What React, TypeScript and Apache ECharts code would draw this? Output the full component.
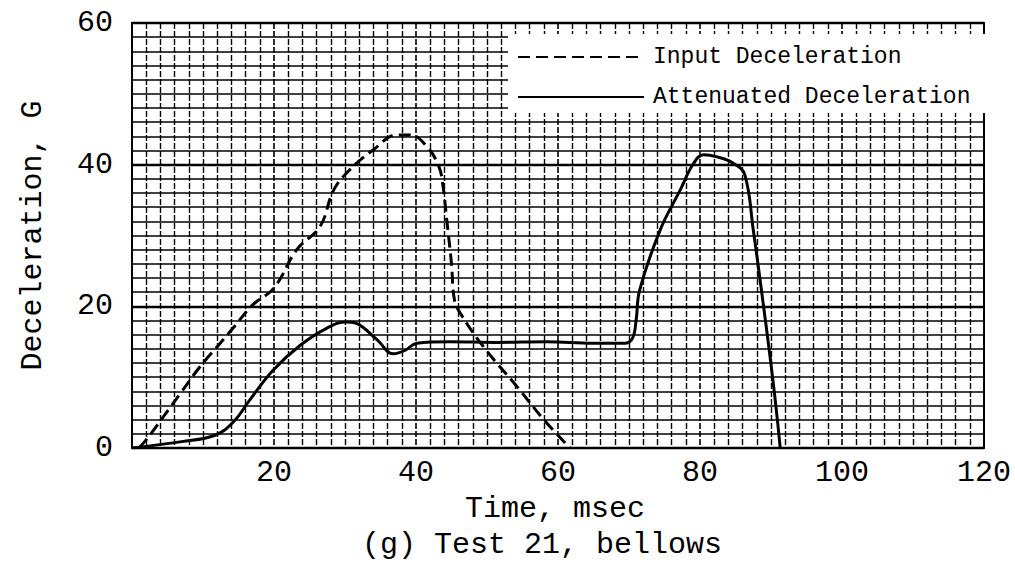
import React, { useEffect, useRef } from "react";
import * as echarts from "echarts";

const FONT = "'Liberation Mono', 'DejaVu Sans Mono', monospace";

const xTicks = [0, 20, 40, 60, 80, 100, 120];
const yTicks = [0, 20, 40, 60];

const seriesNames = ["Input Deceleration", "Attenuated Deceleration"];

const inputDecel: [number, number][] = [
  [1, 0], [2.5, 1.8], [6.8, 7.7], [9.6, 11.5], [12, 14.3], [14.3, 17], [17, 20.2],
  [20, 22.6], [23.2, 28], [26.5, 31.3], [28.4, 36.4], [30.7, 39.3], [34, 42.1],
  [37.3, 44.2], [39.2, 44.2], [41.5, 42.6], [43.2, 39.8], [43.8, 37], [44.3, 32.5],
  [45, 26], [45.4, 21], [46.2, 19.1], [49.5, 14.3], [54.2, 8.7], [58, 4], [61.7, 0],
];

const attenuatedDecel: [number, number][] = [
  [0, 0], [7, 0.9], [11.7, 1.8], [14.3, 3.7], [16.6, 6.8], [19.9, 11], [23.7, 14.5],
  [27.4, 16.9], [30.2, 17.8], [31.6, 17.6], [34.5, 15.3], [36.8, 13.3], [38.5, 13.8],
  [40.1, 14.8], [44.8, 15], [51.4, 14.9], [58.4, 15], [65, 14.8], [69.5, 14.8],
  [70.5, 15.5], [71, 18], [71.5, 22.3], [74.4, 30.8], [77.2, 36.4], [79.1, 40.2],
  [80.5, 41.4], [82.4, 41.1], [84.7, 40.2], [86.3, 38.6], [87.5, 30.8], [88.9, 20.4],
  [90.1, 11], [90.8, 4.9], [91.3, 0],
];

const xName = "Time, msec";
const yName = "Deceleration, G";
const caption = "(g) Test 21, bellows";

export default function App() {
  const ref = useRef<HTMLDivElement>(null);
  useEffect(() => {
    if (!ref.current) return;
    const chart = echarts.init(ref.current, undefined, { renderer: "svg" });
    chart.setOption({
      animation: false,
      backgroundColor: "#fff",
      grid: {
        left: 132,
        right: 31,
        top: 23,
        bottom: 118,
        show: true,
        borderColor: "#000",
        borderWidth: 2,
      },
      legend: {
        data: seriesNames,
        orient: "vertical",
        left: 508,
        top: 34,
        padding: [10, 19, 3, 9],
        backgroundColor: "#fff",
        itemWidth: 126,
        itemHeight: 14,
        itemGap: 14,
        z: 10,
        itemStyle: { opacity: 0 },
        textStyle: {
          fontFamily: FONT,
          fontSize: 23,
          lineHeight: 26,
          color: "#000",
          padding: [0, 0, 0, 4],
        },
      },
      xAxis: {
        type: "value",
        min: xTicks[0],
        max: xTicks[xTicks.length - 1],
        interval: 20,
        name: xName,
        nameLocation: "middle",
        nameGap: 46,
        nameTextStyle: { fontFamily: FONT, fontSize: 30, color: "#000", padding: [0, 6, 0, 0] },
        axisLine: { show: true, lineStyle: { color: "#000", width: 2 } },
        axisTick: { show: false },
        axisLabel: {
          fontFamily: FONT,
          fontSize: 30,
          color: "#000",
          margin: 10,
          formatter: (v: number) => (v === 0 ? "" : String(v)),
        },
        splitLine: { show: true, lineStyle: { color: "#000", width: 1.6, type: [6, 2] } },
        minorTick: { show: false, splitNumber: 10 },
        minorSplitLine: { show: true, lineStyle: { color: "#000", width: 1.4, type: [6, 2] } },
      },
      yAxis: {
        type: "value",
        min: yTicks[0],
        max: yTicks[yTicks.length - 1],
        interval: 20,
        name: yName,
        nameLocation: "middle",
        nameRotate: 90,
        nameGap: 84,
        nameTextStyle: { fontFamily: FONT, fontSize: 30, color: "#000" },
        axisLine: { show: true, lineStyle: { color: "#000", width: 2 } },
        axisTick: { show: false },
        axisLabel: { fontFamily: FONT, fontSize: 30, color: "#000", margin: 19 },
        splitLine: { show: true, lineStyle: { color: "#000", width: 2.4 } },
        minorTick: { show: false, splitNumber: 10 },
        minorSplitLine: { show: true, lineStyle: { color: "#000", width: 1.6 } },
      },
      graphic: [
        {
          type: "text",
          left: 362,
          top: 530,
          style: { text: caption, font: `30px ${FONT}`, fill: "#000" },
        },
      ],
      series: [
        {
          name: seriesNames[0],
          type: "line",
          data: inputDecel,
          symbol: "none",
          smooth: 0.4,
          lineStyle: { color: "#000", width: 3, type: [12, 6] },
          itemStyle: { color: "#000" },
          z: 3,
        },
        {
          name: seriesNames[1],
          type: "line",
          data: attenuatedDecel,
          symbol: "none",
          smooth: 0.4,
          lineStyle: { color: "#000", width: 3 },
          itemStyle: { color: "#000" },
          z: 3,
        },
      ],
    });
    return () => chart.dispose();
  }, []);
  return (
    <div
      ref={ref}
      style={{ position: "fixed", left: 0, top: 0, width: 1015, height: 566, background: "#fff" }}
    />
  );
}
